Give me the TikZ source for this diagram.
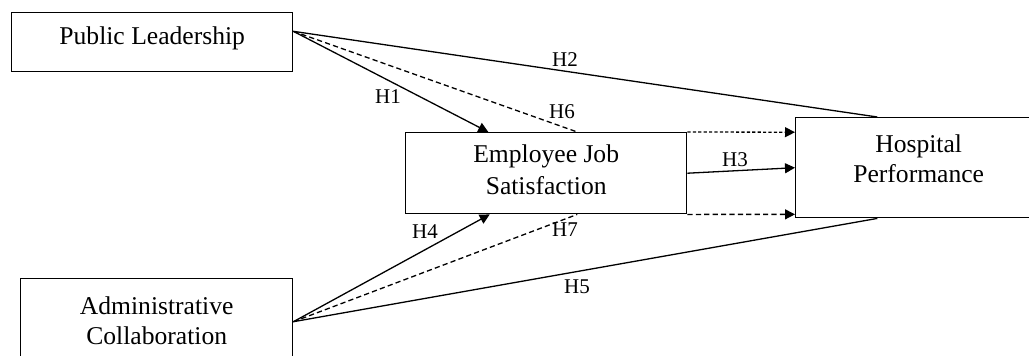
\documentclass[tikz,border=0pt]{standalone}
\usepackage{fontspec}
\setmainfont{Liberation Serif}
\usetikzlibrary{arrows.meta,calc}
\tikzset{
    box/.style={draw, line width=0.7pt, inner sep=0pt, align=center,
                anchor=north west, font=\fontsize{12.8}{15}\selectfont},
    flow/.style={-{Triangle[length=5pt,width=5pt]}, line width=0.65pt},
    link/.style={line width=0.65pt},
    longdash/.style={dash pattern=on 2.6pt off 1.6pt},
    shortdash/.style={dash pattern=on 1.6pt off 1.1pt},
    tag/.style={font=\fontsize{10.5}{12}\selectfont, inner sep=0pt},
}

\begin{document}
\begin{tikzpicture}[x=0.5pt, y=-0.5pt]
    \path[use as bounding box] (0,0) rectangle (1029,355);

    % constructs (text height runs to the last baseline)
    \node[box, minimum width=140.5pt, text height=16pt, text depth=13.5pt]
        (leader) at (11,12) {Public Leadership};
    \node[box, minimum width=140.5pt, text height=31pt, text depth=9.5pt,
          font=\fontsize{12.8}{16}\selectfont]
        (satisf) at (405,132) {Employee Job\\Satisfaction};
    \node[box, minimum width=123pt, text height=32.5pt, text depth=17.5pt]
        (perform) at (795,117) {Hospital\\Performance};
    \node[box, minimum width=136pt, text height=33pt, text depth=10pt]
        (collab) at (20,278) {Administrative\\Collaboration};

    % where the paths meet the boxes
    \coordinate (leaderout) at ($(leader.north east)!0.32!(leader.south east)$);
    \coordinate (h1in) at ($(satisf.north west)!0.295!(satisf.north east)$);
    \coordinate (h6in) at ($(satisf.north west)!0.61!(satisf.north east)$);
    \coordinate (h4in) at ($(satisf.south west)!0.30!(satisf.south east)$);
    \coordinate (h7in) at ($(satisf.south west)!0.61!(satisf.south east)$);
    \coordinate (h2in) at ($(perform.north west)!0.333!(perform.north east)$);
    \coordinate (h5in) at ($(perform.south west)!0.333!(perform.south east)$);
    \coordinate (upperin) at ($(perform.north west)!0.15!(perform.south west)$);
    \coordinate (lowerin) at ($(perform.north west)!0.96!(perform.south west)$);

    % direct and mediated paths
    \draw[flow] (leaderout) -- (h1in);
    \draw[link] (leaderout) -- (h2in);
    \draw[link, longdash] (leaderout) -- (h6in);
    \draw[flow] (satisf.east) -- (perform.west);
    \draw[flow, shortdash] (satisf.north east) -- (upperin);
    \draw[flow, longdash] (satisf.south east) -- (lowerin);
    \draw[flow] (collab.east) -- (h4in);
    \draw[link, longdash] (collab.east) -- (h7in);
    \draw[link] (collab.east) -- (h5in);

    % hypothesis labels
    \node[tag] (h1) at (388,97) {H1};
    \node[tag] (h2) at (565,60) {H2};
    \node[tag] (h3) at (735,160) {H3};
    \node[tag] (h4) at (425,232) {H4};
    \node[tag] (h5) at (577,287) {H5};
    \node[tag] (h6) at (562,112) {H6};
    \node[tag] (h7) at (565,230) {H7};
\end{tikzpicture}
\end{document}
